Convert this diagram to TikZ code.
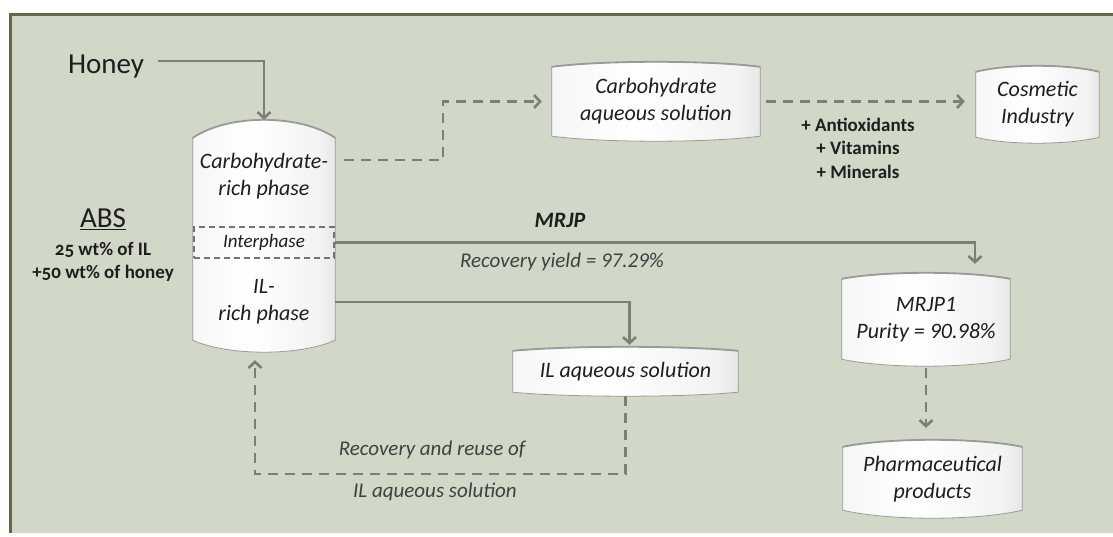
\documentclass[tikz,border=0pt]{standalone}
\usepackage{fontspec}
\setmainfont{Carlito}
\usetikzlibrary{arrows.meta,calc}
\definecolor{bgc}{HTML}{D2D8C7}
\definecolor{framec}{HTML}{5E6A48}
\definecolor{ln}{HTML}{7B8171}
\definecolor{txt}{HTML}{1E1E1E}
\definecolor{drumgrey}{HTML}{ADADAD}
\definecolor{drumedge}{HTML}{9A9A9A}
\pgfdeclarehorizontalshading{drumshade}{100bp}{color(0bp)=(drumgrey); color(22bp)=(white!92!gray); color(45bp)=(white); color(70bp)=(white!90!gray); color(100bp)=(drumgrey)}
\pgfdeclarelayer{bg}\pgfdeclarelayer{drums}\pgfsetlayers{bg,drums,main}
\newcommand\drumfont{\fontsize{22}{27}\selectfont\itshape}
\newcommand\drum[3]{%
\begin{pgfonlayer}{drums}
\path[shading=drumshade, draw=drumedge, line width=0.8pt]
  let \p1=(#1.north west), \p2=(#1.south east) in
  (\x1,\y1-#2pt) .. controls ({\x1+0.25*(\x2-\x1)},{\y1+#2pt/3}) and ({\x1+0.75*(\x2-\x1)},{\y1+#2pt/3}) .. (\x2,\y1-#2pt)
  -- (\x2,\y2+#3pt) .. controls ({\x1+0.75*(\x2-\x1)},{\y2-#3pt/3}) and ({\x1+0.25*(\x2-\x1)},{\y2-#3pt/3}) .. (\x1,\y2+#3pt) -- cycle;
\path[draw=drumedge, line width=1.8pt]
  let \p1=(#1.north west), \p2=(#1.south east) in
  (\x1,\y1-#2pt) .. controls ({\x1+0.25*(\x2-\x1)},{\y1+#2pt/3}) and ({\x1+0.75*(\x2-\x1)},{\y1+#2pt/3}) .. (\x2,\y1-#2pt);
\end{pgfonlayer}}
\tikzset{
  drumbox/.style={inner sep=0pt, align=center, font=\drumfont, text=txt},
  lbl/.style={inner sep=0pt, align=center, text=txt},
  conn/.style={draw=ln, line width=2.6pt, -{Straight Barb[length=6pt,width=13pt]}},
  dsh/.style={dash pattern=on 10pt off 7pt},
}
\begin{document}
\begin{tikzpicture}[x=1pt,y=-1pt]
\useasboundingbox (0,0) rectangle (1113,536);
\begin{pgfonlayer}{bg}
\fill[white] (0,0) rectangle (1113,536);
\fill[bgc] (10,14) rectangle (1113,533);
\draw[framec, line width=3pt] (10,533) -- (10,14) -- (1113,14);
\end{pgfonlayer}

% nodes
\node[lbl, font=\fontsize{29}{32}\selectfont] (honey) at (106,67) {Honey};
\node[lbl, font=\fontsize{29}{32}\selectfont] (abs) at (103,219) {\underline{ABS}};
\node[lbl, font=\fontsize{19}{23}\selectfont\bfseries\addfontfeature{Numbers=OldStyle}] (comp) at (103,262) {25 wt\% of IL\\+50 wt\% of honey};

\node[drumbox, minimum width=142pt, minimum height=232pt] (sys) at (264,236) {};
\node[drumbox] (carb) at (264,176) {Carbohydrate-\\rich phase};
\node[inner sep=0pt, draw=black!55, line width=1.4pt, dash pattern=on 6pt off 4pt, minimum width=140pt, minimum height=31pt, font=\fontsize{19}{22}\selectfont\itshape, text=txt] (inter) at (264,242.5) {Interphase};
\node[drumbox] (ilr) at (264,302) {IL-\\rich phase};

\node[drumbox, minimum width=208pt, minimum height=79pt] (carbaq) at (656,101.5) {Carbohydrate\\aqueous solution};
\node[drumbox, minimum width=123pt, minimum height=77pt] (cosm) at (1037.5,104.5) {Cosmetic\\Industry};
\node[drumbox, minimum width=225pt, minimum height=49pt] (ilaq) at (625.5,371.5) {IL aqueous solution};
\node[drumbox, minimum width=168pt, minimum height=93pt] (mrjp1) at (926,319.5) {MRJP1\\Purity = 90.98\%};
\node[drumbox, minimum width=179pt, minimum height=78pt] (pharm) at (932.5,479) {Pharmaceutical\\products};

\node[lbl, font=\fontsize{19}{23.5}\selectfont\bfseries] (add) at (858,148) {+ Antioxidants\\+ Vitamins\\+ Minerals};
\node[lbl, font=\fontsize{22}{26}\selectfont\bfseries\itshape] (mrjp) at (560,220) {MRJP};
\node[lbl, font=\fontsize{21}{25}\selectfont\itshape, text=black!75] (yield) at (562,262) {Recovery yield = 97.29\%};
\node[lbl, font=\fontsize{21}{25}\selectfont\itshape, text=black!75] (reuse1) at (432,450) {Recovery and reuse of};
\node[lbl, font=\fontsize{21}{25}\selectfont\itshape, text=black!75] (reuse2) at (435,492) {IL aqueous solution};

\drum{sys}{18}{12}
\drum{carbaq}{5}{5}
\drum{cosm}{6}{6}
\drum{ilaq}{4}{4}
\drum{mrjp1}{6}{7}
\drum{pharm}{7}{8}

% connectors
\draw[conn] ([shift={(14pt,6pt)}]honey.east) -| (sys.north);
\draw[conn, dsh] ([xshift=9pt]sys.east |- 0,160) -| ([xshift=-109pt]carbaq.west) -- ([xshift=-10pt]carbaq.west);
\draw[conn, dsh] ([xshift=6pt]carbaq.east) -- ([xshift=-11pt]cosm.west |- carbaq.east);
\draw[conn, shorten >=9pt] (inter.east) -| ([xshift=49pt]mrjp1.north);
\draw[conn, shorten >=2pt] (sys.east |- ilr) -| ([xshift=4pt]ilaq.north);
\coordinate (rc) at (255,474);
\draw[conn, dsh] (ilaq.south) |- (rc) -- ([yshift=-8pt]sys.south -| rc);
\draw[conn, dsh, shorten >=12pt] ([yshift=-2pt]mrjp1.south) -- (mrjp1.south |- pharm.north);
\end{tikzpicture}
\end{document}
